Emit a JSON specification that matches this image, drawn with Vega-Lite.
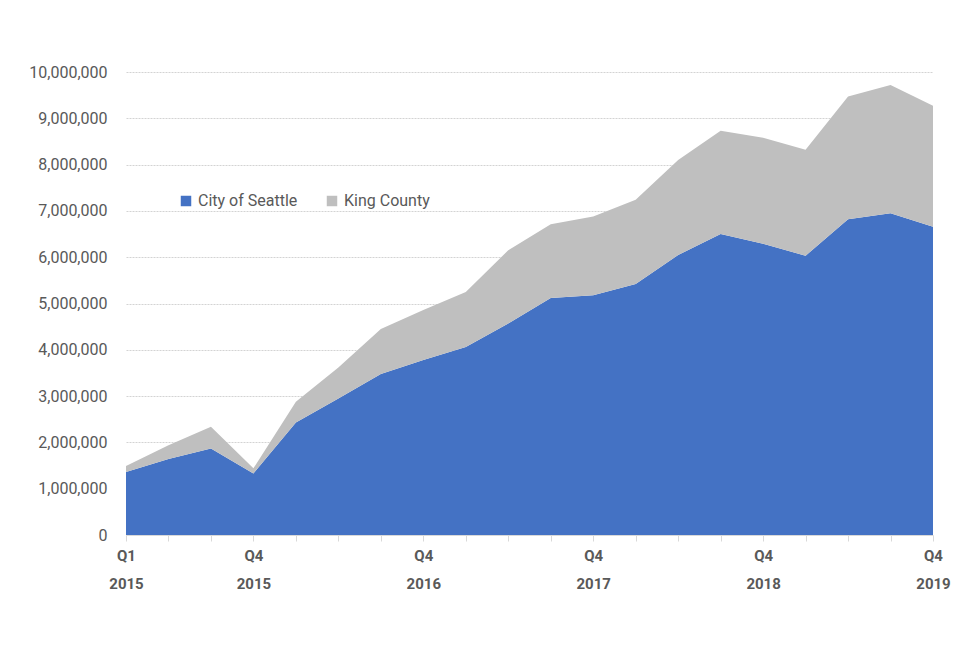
{
  "$schema": "https://vega.github.io/schema/vega-lite/v6.json",
  "width": 807,
  "height": 463,
  "autosize": {"type": "none"},
  "padding": {"left": 126, "top": 72, "right": 31, "bottom": 114},
  "background": "white",
  "config": {
    "view": {"stroke": null},
    "font": "Roboto"
  },
  "data": {
    "values": [
      {"quarter": "Q1 2015", "area": "City of Seattle", "ord": 0, "value": 1360000},
      {"quarter": "Q2 2015", "area": "City of Seattle", "ord": 0, "value": 1640000},
      {"quarter": "Q3 2015", "area": "City of Seattle", "ord": 0, "value": 1870000},
      {"quarter": "Q4 2015", "area": "City of Seattle", "ord": 0, "value": 1330000},
      {"quarter": "Q1 2016", "area": "City of Seattle", "ord": 0, "value": 2430000},
      {"quarter": "Q2 2016", "area": "City of Seattle", "ord": 0, "value": 2950000},
      {"quarter": "Q3 2016", "area": "City of Seattle", "ord": 0, "value": 3480000},
      {"quarter": "Q4 2016", "area": "City of Seattle", "ord": 0, "value": 3780000},
      {"quarter": "Q1 2017", "area": "City of Seattle", "ord": 0, "value": 4060000},
      {"quarter": "Q2 2017", "area": "City of Seattle", "ord": 0, "value": 4570000},
      {"quarter": "Q3 2017", "area": "City of Seattle", "ord": 0, "value": 5120000},
      {"quarter": "Q4 2017", "area": "City of Seattle", "ord": 0, "value": 5180000},
      {"quarter": "Q1 2018", "area": "City of Seattle", "ord": 0, "value": 5420000},
      {"quarter": "Q2 2018", "area": "City of Seattle", "ord": 0, "value": 6050000},
      {"quarter": "Q3 2018", "area": "City of Seattle", "ord": 0, "value": 6500000},
      {"quarter": "Q4 2018", "area": "City of Seattle", "ord": 0, "value": 6290000},
      {"quarter": "Q1 2019", "area": "City of Seattle", "ord": 0, "value": 6030000},
      {"quarter": "Q2 2019", "area": "City of Seattle", "ord": 0, "value": 6820000},
      {"quarter": "Q3 2019", "area": "City of Seattle", "ord": 0, "value": 6950000},
      {"quarter": "Q4 2019", "area": "City of Seattle", "ord": 0, "value": 6660000},
      {"quarter": "Q1 2015", "area": "King County", "ord": 1, "value": 130000},
      {"quarter": "Q2 2015", "area": "King County", "ord": 1, "value": 300000},
      {"quarter": "Q3 2015", "area": "King County", "ord": 1, "value": 470000},
      {"quarter": "Q4 2015", "area": "King County", "ord": 1, "value": 110000},
      {"quarter": "Q1 2016", "area": "King County", "ord": 1, "value": 450000},
      {"quarter": "Q2 2016", "area": "King County", "ord": 1, "value": 670000},
      {"quarter": "Q3 2016", "area": "King County", "ord": 1, "value": 970000},
      {"quarter": "Q4 2016", "area": "King County", "ord": 1, "value": 1080000},
      {"quarter": "Q1 2017", "area": "King County", "ord": 1, "value": 1190000},
      {"quarter": "Q2 2017", "area": "King County", "ord": 1, "value": 1580000},
      {"quarter": "Q3 2017", "area": "King County", "ord": 1, "value": 1590000},
      {"quarter": "Q4 2017", "area": "King County", "ord": 1, "value": 1700000},
      {"quarter": "Q1 2018", "area": "King County", "ord": 1, "value": 1820000},
      {"quarter": "Q2 2018", "area": "King County", "ord": 1, "value": 2050000},
      {"quarter": "Q3 2018", "area": "King County", "ord": 1, "value": 2230000},
      {"quarter": "Q4 2018", "area": "King County", "ord": 1, "value": 2290000},
      {"quarter": "Q1 2019", "area": "King County", "ord": 1, "value": 2290000},
      {"quarter": "Q2 2019", "area": "King County", "ord": 1, "value": 2650000},
      {"quarter": "Q3 2019", "area": "King County", "ord": 1, "value": 2770000},
      {"quarter": "Q4 2019", "area": "King County", "ord": 1, "value": 2610000}
    ]
  },
  "mark": {"type": "area", "opacity": 1},
  "encoding": {
    "x": {
      "field": "quarter",
      "type": "ordinal",
      "sort": null,
      "scale": {"type": "point", "padding": 0},
      "axis": {
        "title": null,
        "labelAngle": 0,
        "domainColor": "#d9d9d9",
        "tickColor": "#d9d9d9",
        "tickSize": 6,
        "labelPadding": 7,
        "labelFont": "Roboto",
        "labelFontSize": 15,
        "labelFontWeight": "bold",
        "labelColor": "#595959",
        "labelLineHeight": 28,
        "labelOverlap": false,
        "labelExpr": "indexof(['Q1 2015','Q4 2015','Q4 2016','Q4 2017','Q4 2018','Q4 2019'], datum.value) >= 0 ? split(datum.value, ' ') : ''"
      }
    },
    "y": {
      "field": "value",
      "type": "quantitative",
      "stack": "zero",
      "scale": {"domain": [0, 10000000], "nice": false},
      "axis": {
        "title": null,
        "values": [0, 1000000, 2000000, 3000000, 4000000, 5000000, 6000000, 7000000, 8000000, 9000000, 10000000],
        "format": ",d",
        "domain": false,
        "ticks": false,
        "labelPadding": 19,
        "labelFont": "Roboto",
        "labelFontSize": 16,
        "labelColor": "#595959",
        "gridColor": "#c8c8c8",
        "gridDash": [2, 1],
        "gridWidth": 0.8
      }
    },
    "color": {
      "field": "area",
      "type": "nominal",
      "scale": {"domain": ["City of Seattle", "King County"], "range": ["#4472c4", "#bfbfbf"]},
      "legend": {
        "title": null,
        "orient": "none",
        "legendX": 52,
        "legendY": 121,
        "direction": "horizontal",
        "symbolType": "square",
        "symbolSize": 110,
        "symbolStrokeWidth": 0,
        "labelFont": "Roboto",
        "labelFontSize": 16,
        "labelColor": "#595959",
        "columnPadding": 26,
        "labelOffset": 4
      }
    },
    "order": {"field": "ord", "type": "quantitative", "sort": "ascending"}
  }
}
